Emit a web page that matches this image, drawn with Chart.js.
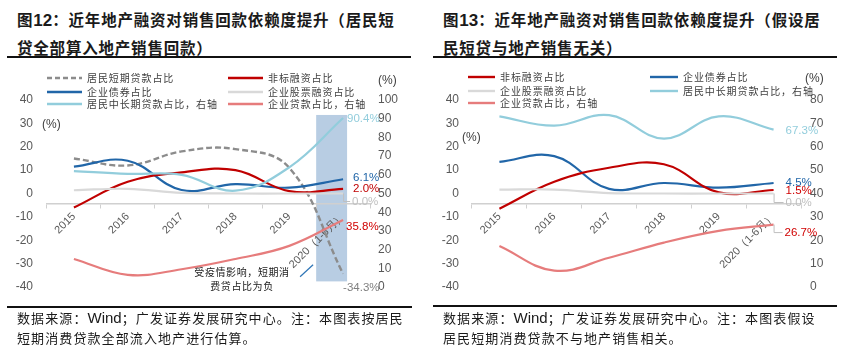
<!DOCTYPE html>
<html>
<head>
<meta charset="utf-8">
<script src="https://cdn.jsdelivr.net/npm/chart.js@4.4.1/dist/chart.umd.min.js"></script>
<style>
  body { margin: 0; background: #fff; width: 845px; height: 351px; overflow: hidden; position: relative;
         font-family: "Noto Sans CJK SC", sans-serif; }
  .abs { position: absolute; white-space: nowrap; z-index: 2; }
  .title { font-size: 15.5px; font-weight: bold; color: #1a1a1a; line-height: 26px; letter-spacing: 0.8px; }
  .title b { font-family: "Liberation Sans", Arial, sans-serif; font-size: 17px; letter-spacing: 0; }
  .rule { position: absolute; height: 1.5px; background: #111; z-index: 2; }
  .src { font-size: 13px; color: #1a1a1a; line-height: 20px; letter-spacing: 1.1px; }
  .src i { font-style: normal; font-family: "Liberation Sans", Arial, sans-serif; font-size: 15px; letter-spacing: 0; }
  .lg { font-size: 10px; color: #404040; letter-spacing: 0.9px; line-height: 12px; }
  .lg svg { position: absolute; }
  .unit { font: 12px "Liberation Sans", Arial, sans-serif; color: #404040; line-height: 12px; }
  .note { font-size: 10px; color: #1a1a1a; letter-spacing: 0.6px; line-height: 14px; text-align: center; }
  canvas { position: absolute; top: 60px; }
</style>
</head>
<body>

<div class="abs title" style="left:17px;top:6px">图<b>12</b>：近年地产融资对销售回款依赖度提升（居民短<br>贷全部算入地产销售回款）</div>
<div class="rule" style="left:7px;top:56px;width:404px"></div>
<div class="abs title" style="left:443px;top:6px">图<b>13</b>：近年地产融资对销售回款依赖度提升（假设居<br>民短贷与地产销售无关）</div>
<div class="rule" style="left:433px;top:56px;width:404px"></div>

<canvas id="chart12" width="420" height="250" style="left:0"></canvas>
<canvas id="chart13" width="425" height="250" style="left:420px"></canvas>

<div class="abs unit" style="left:42px;top:118px">(%)</div>
<div class="abs unit" style="left:378px;top:74px">(%)</div>
<div class="abs unit" style="left:462px;top:131px">(%)</div>
<div class="abs unit" style="left:805px;top:72px">(%)</div>

<div class="abs note" style="left:192px;top:265px;width:100px">受疫情影响，短期消<br>费贷占比为负</div>

<div class="rule" style="left:7px;top:306px;width:405px"></div>
<div class="abs src" style="left:17px;top:308px">数据来源：<i>Wind</i>；广发证券发展研究中心。注：本图表按居民<br>短期消费贷款全部流入地产进行估算。</div>
<div class="rule" style="left:433px;top:305px;width:404px"></div>
<div class="abs src" style="left:443px;top:308px">数据来源：<i>Wind</i>；广发证券发展研究中心。注：本图表假设<br>居民短期消费贷款不与地产销售相关。</div>

<script>
// categories and tick values
const categories = ['2015', '2016', '2017', '2018', '2019', '2020（1-6月）'];
const leftTicks = [-40, -30, -20, -10, 0, 10, 20, 30, 40];
const rightTicks12 = [0, 10, 20, 30, 40, 50, 60, 70, 80, 90, 100];
const rightTicks13 = [0, 10, 20, 30, 40, 50, 60, 70, 80];

// 图12 (居民短贷全部算入地产销售回款)
const shortLoan12 = [15, 12, 18, 19, 11, -34.3];
const nonStd12    = [-6, 5, 9, 10, 1, 2.0];
const bond12      = [11.5, 14, 1.5, 4, 2.5, 6.1];
const equity12    = [1.4, 2, 0.3, 0, 0, 0.0];
const mortgage12  = [62, 60.5, 60, 51.5, 64, 90.4];
const corpLoan12  = [15, 6.5, 9.5, 15, 22, 35.8];

// 图13 (假设居民短贷与地产销售无关)
const nonStd13    = [-6.5, 5, 11, 12.5, 0.5, 1.5];
const bond13      = [13.5, 16, 2, 4.5, 2.5, 4.5];
const equity13    = [1.7, 1.7, 0.2, 0, 0, 0.0];
const mortgage13  = [73, 69, 73.5, 63.5, 73, 67.3];
const corpLoan13  = [17.5, 7, 12.5, 19, 24, 26.7];

const COLORS = {
    shortLoan: '#8c8c8c',
    nonStd: '#c00000',
    bond: '#2166a8',
    equity: '#d9d9d9',
    mortgage: '#92cddc',
    corpLoan: '#e67c7c'
};
const NAMES = {
    shortLoan: '居民短期贷款占比',
    nonStd: '非标融资占比',
    bond: '企业债券占比',
    equity: '企业股票融资占比',
    mortgage: '居民中长期贷款占比，右轴',
    corpLoan: '企业贷款占比，右轴'
};
const SANS = 'Liberation Sans, Arial, sans-serif';
const TICK_FONT = { family: SANS, size: 12 };

const line = (key, data, axis) => ({
    label: NAMES[key],
    data: data,
    yAxisID: axis,
    borderColor: COLORS[key],
    borderWidth: key === 'shortLoan' ? 2.4 : 2.2,
    borderDash: key === 'shortLoan' ? [6, 3] : [],
    tension: 0.4,
    pointRadius: 0,
    fill: false
});

// value labels at the end of each line
const endLabels = (items) => ({
    id: 'endLabels',
    afterDatasetsDraw(chart) {
        const ctx = chart.ctx;
        ctx.save();
        ctx.font = '11.5px ' + SANS;
        ctx.textBaseline = 'middle';
        items.forEach(it => {
            const meta = chart.getDatasetMeta(it.ds);
            const pt = meta.data[meta.data.length - 1];
            const data = chart.data.datasets[it.ds].data;
            const txt = data[data.length - 1].toFixed(1) + '%';
            const x = pt.x + it.dx, y = pt.y + it.dy;
            if (it.leader) {
                ctx.strokeStyle = '#bfbfbf';
                ctx.lineWidth = 1;
                ctx.beginPath();
                ctx.moveTo(pt.x + 0.5, pt.y);
                ctx.lineTo(pt.x + 0.5, y);
                ctx.lineTo(x - 2, y);
                ctx.stroke();
            }
            ctx.fillStyle = it.color;
            ctx.fillText(txt, x, y);
        });
        ctx.restore();
    }
});

// shaded 2020 box + pointer for the note (图12 only)
const highlight2020 = {
    id: 'highlight2020',
    beforeDraw(chart) {
        const x = chart.scales.x, r = chart.scales.y1;
        const cx = x.getPixelForValue(5);
        const half = (x.getPixelForValue(5) - x.getPixelForValue(4)) / 2;
        const ctx = chart.ctx;
        ctx.save();
        ctx.fillStyle = '#b8cde3';
        ctx.fillRect(cx - half, r.getPixelForValue(92), half + 4, r.getPixelForValue(3) - r.getPixelForValue(92));
        ctx.restore();
    },
    afterDraw(chart) {
        const x = chart.scales.x, l = chart.scales.y;
        const cx = x.getPixelForValue(5);
        const ctx = chart.ctx;
        ctx.save();
        ctx.strokeStyle = '#2e75b6';
        ctx.lineWidth = 1.2;
        ctx.beginPath();
        ctx.moveTo(cx - 43, l.getPixelForValue(-35.6));
        ctx.lineTo(cx - 30, l.getPixelForValue(-30.5));
        ctx.stroke();
        ctx.restore();
    }
};

function scalesFor(leftW, rightW, rightTicks, leftPad, rightPad) {
    return {
        x: {
            type: 'category',
            position: { y: -4.5 },
            offset: true,
            grid: { offset: true, drawOnChartArea: false, drawTicks: true, tickLength: 4, color: '#d0d0d0', lineWidth: 1 },
            border: { color: '#d0d0d0', width: 1.5 },
            ticks: { minRotation: 45, maxRotation: 45, autoSkip: false, color: '#595959', padding: 2,
                     font: { family: SANS, size: 11 } }
        },
        y: {
            position: 'left',
            min: leftTicks[0], max: leftTicks[leftTicks.length - 1],
            afterBuildTicks: s => { s.ticks = leftTicks.map(v => ({ value: v })); },
            grid: { display: false, drawTicks: false },
            border: { display: false },
            ticks: { color: '#595959', font: TICK_FONT, padding: leftPad },
            afterFit: s => { s.width = leftW; }
        },
        y1: {
            position: 'right',
            min: rightTicks[0], max: rightTicks[rightTicks.length - 1],
            afterBuildTicks: s => { s.ticks = rightTicks.map(v => ({ value: v })); },
            grid: { display: false, drawTicks: false },
            border: { display: false },
            ticks: { color: '#595959', font: TICK_FONT, padding: rightPad },
            afterFit: s => { s.width = rightW; }
        }
    };
}

const baseOptions = (scales) => ({
    responsive: false,
    animation: false,
    devicePixelRatio: 1,
    layout: { padding: { top: 40, bottom: 23, left: 0, right: 0 } },
    plugins: { legend: { display: false }, tooltip: { enabled: false } },
    scales: scales
});

new Chart(document.getElementById('chart12'), {
    type: 'line',
    data: {
        labels: categories,
        datasets: [
            line('equity', equity12, 'y'),
            line('corpLoan', corpLoan12, 'y1'),
            line('mortgage', mortgage12, 'y1'),
            line('nonStd', nonStd12, 'y'),
            line('bond', bond12, 'y'),
            line('shortLoan', shortLoan12, 'y')
        ]
    },
    options: baseOptions(scalesFor(47, 50, rightTicks12, 14, 8)),
    plugins: [highlight2020, endLabels([
        { ds: 2, dx: 4, dy: 1, color: COLORS.mortgage },
        { ds: 4, dx: 10, dy: -1, color: COLORS.bond },
        { ds: 3, dx: 10, dy: 0, color: COLORS.nonStd },
        { ds: 0, dx: 9, dy: 8, color: '#bfbfbf', leader: true },
        { ds: 1, dx: 3, dy: 7, color: '#d00000' },
        { ds: 5, dx: 0, dy: 14, color: '#7f7f7f' }
    ])]
});

new Chart(document.getElementById('chart13'), {
    type: 'line',
    data: {
        labels: categories,
        datasets: [
            line('equity', equity13, 'y'),
            line('corpLoan', corpLoan13, 'y1'),
            line('mortgage', mortgage13, 'y1'),
            line('nonStd', nonStd13, 'y'),
            line('bond', bond13, 'y')
        ]
    },
    options: baseOptions(scalesFor(52, 44, rightTicks13, 13, 9)),
    plugins: [endLabels([
        { ds: 2, dx: 12, dy: 1, color: COLORS.mortgage },
        { ds: 4, dx: 12, dy: 0, color: COLORS.bond },
        { ds: 3, dx: 12, dy: 1, color: '#d00000' },
        { ds: 0, dx: 12, dy: 9, color: '#bfbfbf', leader: true },
        { ds: 1, dx: 11, dy: 8, color: '#d00000', leader: true }
    ])]
});

// legends, built from the same names / colours
function addLegend(entries) {
    entries.forEach(([key, x, y, len]) => {
        const d = document.createElement('div');
        d.className = 'abs lg';
        d.style.left = x + 'px';
        d.style.top = (y - 6) + 'px';
        const dash = key === 'shortLoan' ? ' stroke-dasharray="5,3"' : '';
        d.innerHTML = `<svg width="${len}" height="4" style="left:0;top:4px"><line x1="0" y1="2" x2="${len}" y2="2" stroke="${COLORS[key]}" stroke-width="2.4"${dash}/></svg>` +
                      `<span style="margin-left:${len + 5}px">${NAMES[key]}</span>`;
        document.body.appendChild(d);
    });
}
addLegend([
    ['shortLoan', 47, 78, 35], ['bond', 47, 91.5, 35], ['mortgage', 47, 104, 35],
    ['nonStd', 228, 78, 35], ['equity', 228, 91.5, 35], ['corpLoan', 228, 104, 35],
    ['nonStd', 468, 77, 27], ['equity', 468, 90.5, 27], ['corpLoan', 468, 103, 27],
    ['bond', 650, 77, 28], ['mortgage', 650, 90.5, 28]
]);
</script>
</body>
</html>
